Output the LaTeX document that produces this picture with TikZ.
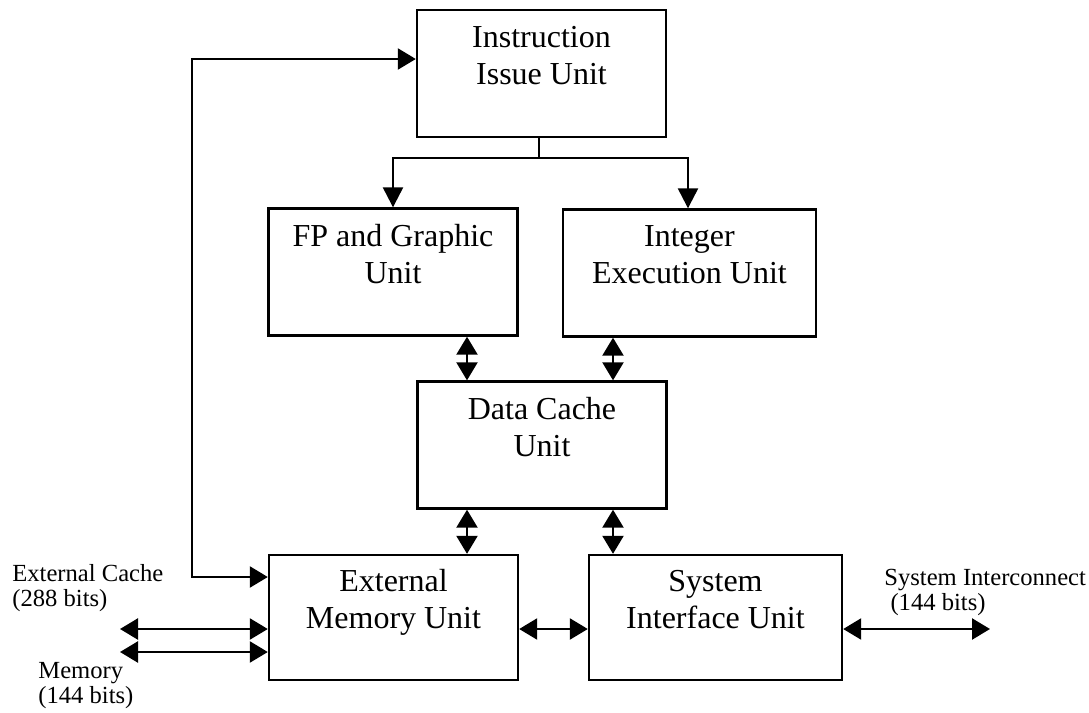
\documentclass[tikz,border=0pt]{standalone}
\usepackage{fontspec}
\setmainfont{Liberation Serif}
\usetikzlibrary{arrows.meta,positioning}
\tikzset{
  unit/.style={draw,line width=1.2pt,inner sep=0pt,minimum width=124.5pt,minimum height=63.5pt,align=center,font=\fontsize{16}{18.5}\selectfont},
  arr/.style={line width=1.2pt,-{Triangle[length=10pt,width=10pt]}},
  dbl/.style={line width=1.2pt,{Triangle[length=9pt,width=10.5pt]}-{Triangle[length=9pt,width=10.5pt]}},
  lbl/.style={inner sep=0pt,align=left,anchor=west,font=\fontsize{12.3}{12.5}\selectfont}
}

\begin{document}
\begin{tikzpicture}[x=0.5pt,y=-0.5pt]
  \useasboundingbox (0,0) rectangle (1089,713);

  % Units
  \node[unit] (iiu) at (541.5,73.5) {Instruction\\Issue Unit\\\mbox{}};
  \node[unit] (fp) at (393,272) {FP and Graphic\\Unit\\\mbox{}};
  \node[unit,minimum width=126.5pt] (ieu) at (689.5,273) {Integer\\Execution Unit\\\mbox{}};
  \node[unit] (dcu) at (542,445) {Data Cache\\Unit\\\mbox{}};
  \node[unit,minimum height=62.5pt] (emu) at (393.5,617.5) {External\\Memory Unit\\\mbox{}};
  \node[unit,minimum width=126.5pt,minimum height=62.5pt] (siu) at (715.5,617.5) {System\\Interface Unit\\\mbox{}};

  % Port labels
  \node[lbl] (ecache) at (12,588) {External Cache\\(288 bits)};
  \node[lbl] (mem) at (38,686) {Memory\\(144 bits)};
  \node[lbl] (sysic) at (884,592) {System Interconnect\\~(144 bits)};

  % Helper coordinates
  \coordinate (split) at (539,158);
  \coordinate (colA) at (467,0);
  \coordinate (colB) at (613,0);
  \coordinate (fbtop) at (192,59);
  \coordinate (fbbot) at (192,577);
  \coordinate (cacheend) at (120,629);
  \coordinate (memend) at (120,652);
  \coordinate (sysend) at (990,629);

  % Issue to execution units
  \draw[line width=1.2pt] (iiu.south -| split) -- (split);
  \draw[arr] (split) -| (fp.north);
  \draw[arr] (split) -| ([xshift=-0.75pt]ieu.north);

  % Data cache links
  \draw[dbl] (fp.south -| colA) -- (dcu.north -| colA);
  \draw[dbl] (ieu.south -| colB) -- (dcu.north -| colB);
  \draw[dbl] (dcu.south -| colA) -- (emu.north -| colA);
  \draw[dbl] (dcu.south -| colB) -- (siu.north -| colB);

  % Feedback loop
  \draw[dbl] (fbtop -| iiu.west) -- (fbtop) -- (fbbot) -- (fbbot -| emu.west);

  % External ports
  \draw[dbl] (cacheend) -- (cacheend -| emu.west);
  \draw[dbl] (memend) -- (memend -| emu.west);
  \draw[dbl] (emu.east |- sysend) -- (siu.west |- sysend);
  \draw[dbl] (siu.east |- sysend) -- (sysend);
\end{tikzpicture}
\end{document}
